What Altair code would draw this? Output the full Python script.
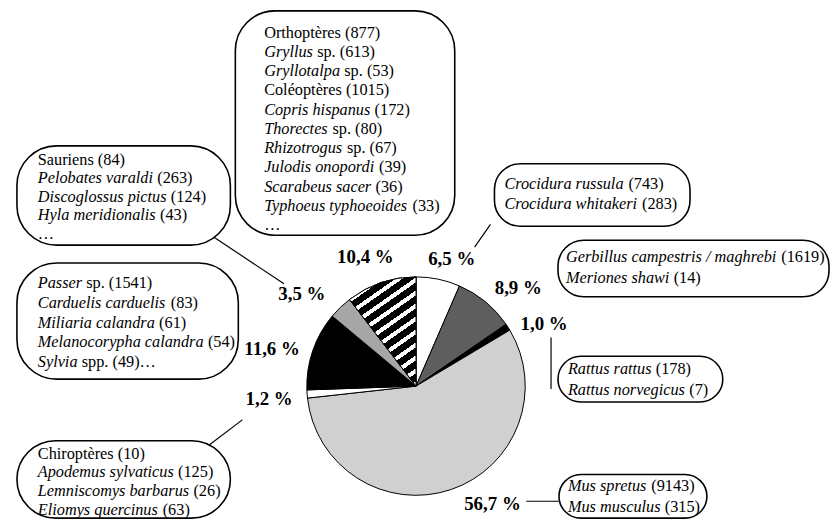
import altair as alt
import pandas as pd

# ---------------- data ----------------
slice_names = ["Crocidura", "Gerbillinae", "Rattus", "Mus", "Divers",
               "Oiseaux", "Reptiles-Amphibiens", "Insectes"]
slice_values = [6.5, 8.9, 1.0, 56.7, 1.2, 11.6, 3.5, 10.4]
slice_labels = ["6,5 %", "8,9 %", "1,0 %", "56,7 %", "1,2 %", "11,6 %", "3,5 %", "10,4 %"]

# each line: (italic part, roman part)
box_insectes = [("", "Orthoptères (877)"), ("Gryllus", "sp. (613)"),
                ("Gryllotalpa", "sp. (53)"), ("", "Coléoptères (1015)"),
                ("Copris hispanus", "(172)"), ("Thorectes", "sp. (80)"),
                ("Rhizotrogus", "sp. (67)"), ("Julodis onopordi", "(39)"),
                ("Scarabeus sacer", "(36)"), ("Typhoeus typhoeoides", "(33)"),
                ("", "…")]
box_sauriens = [("", "Sauriens (84)"), ("Pelobates varaldi", "(263)"),
                ("Discoglossus pictus", "(124)"), ("Hyla meridionalis", "(43)"),
                ("", "…")]
box_oiseaux = [("Passer", "sp. (1541)"), ("Carduelis carduelis", "(83)"),
               ("Miliaria calandra", "(61)"), ("Melanocorypha calandra", "(54)"),
               ("Sylvia", "spp. (49)…")]
box_divers = [("", "Chiroptères (10)"), ("Apodemus sylvaticus", "(125)"),
              ("Lemniscomys barbarus", "(26)"), ("Eliomys quercinus", "(63)")]
box_crocidura = [("Crocidura russula", "(743)"), ("Crocidura whitakeri", "(283)")]
box_gerbilles = [("Gerbillus campestris / maghrebi", "(1619)"), ("Meriones shawi", "(14)")]
box_rattus = [("Rattus rattus", "(178)"), ("Rattus norvegicus", "(7)")]
box_mus = [("Mus spretus", "(9143)"), ("Mus musculus", "(315)")]

# ---------------- styles / layout ----------------
slice_fills = ["#ffffff", "#5e5e5e", "#000000", "#d0d0d0", "#ffffff",
               "#000000", "#a6a6a6", "#ffffff"]
HATCH_INDEX = 7

W, H = 828, 513          # chart px; page offset 8 px
OFF = 8
PIE_CX, PIE_CY, PIE_R = 419, 387, 110

label_pos = {"6,5 %": (455, 259), "8,9 %": (522, 288), "1,0 %": (548, 324),
             "56,7 %": (496, 506), "1,2 %": (271, 400), "11,6 %": (274, 350),
             "3,5 %": (304, 294), "10,4 %": (368, 257)}

# x1, y1, x2, y2, text x, first line y, line step, big corners?
boxes = [
    (box_insectes, (237, 9, 458, 235, 266, 31, 19.4, True)),
    (box_sauriens, (17, 145, 232, 245, 38, 159, 18.6, True)),
    (box_oiseaux, (17, 263, 240, 380, 38, 283, 20, True)),
    (box_divers, (17, 442, 232, 520, 38, 455, 19, True)),
    (box_crocidura, (498, 163, 695, 226, 508, 183, 21, False)),
    (box_gerbilles, (562, 240, 835, 297, 570, 257, 21, False)),
    (box_rattus, (562, 357, 728, 403, 572, 370, 21, False)),
    (box_mus, (563, 476, 712, 520, 572, 488, 20.5, False)),
]

connectors = [((214, 236), (286, 284)),
              ((207, 449), (244, 421)),
              ((494, 224), (478, 247)),
              ((555, 338), (555, 390)),
              ((530, 503), (563, 503))]

FONT = "Liberation Serif"
TXT = 16.4
# Times italic advance widths (1/1000 em)
IT = dict(zip("ABCDEFGHIJKLMNOPQRSTUVWXYZ",
              [611, 611, 667, 722, 611, 611, 722, 722, 333, 444, 667, 556, 833,
               667, 722, 611, 722, 611, 500, 556, 722, 611, 833, 611, 556, 556]))
IT.update(dict(zip("abcdefghijklmnopqrstuvwxyz",
                   [500, 500, 444, 500, 444, 278, 500, 500, 278, 278, 444, 278, 722,
                    500, 500, 500, 500, 389, 389, 278, 500, 444, 667, 444, 444, 389])))
IT.update({" ": 250, "/": 278})


def it_width(s):
    return sum(IT.get(c, 500) for c in s) * TXT / 1000.0


# ---------------- tables ----------------
pie_df = pd.DataFrame({"idx": list(range(len(slice_values))), "name": slice_names,
                       "value": slice_values, "fill": slice_fills})

lab_df = pd.DataFrame({"t": slice_labels,
                       "x": [label_pos[l][0] for l in slice_labels],
                       "y": [label_pos[l][1] for l in slice_labels]})

box_rows, text_rows = [], []
for lines, (x1, y1, x2, y2, tx, ty, dy, big) in boxes:
    box_rows.append(dict(x1=x1, y1=y1, x2=x2, y2=y2, big=big))
    for i, (it, ro) in enumerate(lines):
        y = ty + i * dy
        x = tx
        if it:
            text_rows.append(dict(x=x, y=y, t=it, s="italic"))
            x += it_width(it) + 4.2
        if ro:
            text_rows.append(dict(x=x, y=y, t=ro, s="normal"))
box_df = pd.DataFrame(box_rows)
text_df = pd.DataFrame(text_rows)
con_df = pd.DataFrame([dict(x1=a[0], y1=a[1], x2=b[0], y2=b[1]) for a, b in connectors])

xs = alt.Scale(domain=[OFF, OFF + W], range=[0, W])
ys = alt.Scale(domain=[OFF, OFF + H], range=[0, H])
ts = alt.Scale(domain=[0, sum(slice_values)])


def X(f):
    return alt.X(f, type="quantitative", scale=xs, axis=None)


def Y(f):
    return alt.Y(f, type="quantitative", scale=ys, axis=None)


# ---------------- pie ----------------
pie_base = alt.Chart(pie_df).transform_stack(
    stack="value", groupby=[], as_=["v0", "v1"],
    sort=[alt.SortField("idx", order="ascending")])

pie = pie_base.mark_arc(radius=PIE_R, stroke="black", strokeWidth=1).encode(
    theta=alt.Theta("v0:Q", scale=ts),
    theta2="v1:Q",
    fill=alt.Fill("fill:N", scale=None),
    x=alt.X(datum=PIE_CX, type="quantitative", scale=xs, axis=None),
    y=alt.Y(datum=PIE_CY, type="quantitative", scale=ys, axis=None),
)

n_str = 12
stops = []
for i in range(n_str):
    a, b, c = i / n_str, (i + 0.62) / n_str, (i + 1) / n_str
    stops += [{"offset": a, "color": "#000000"}, {"offset": b, "color": "#000000"},
              {"offset": b, "color": "#ffffff"}, {"offset": c, "color": "#ffffff"}]
hatch_fill = {"gradient": "linear", "x1": 0, "y1": 0, "x2": 0.515, "y2": 1.207,
              "stops": stops}

hatch = pie_base.transform_filter(f"datum.idx == {HATCH_INDEX}").mark_arc(
    radius=PIE_R, stroke="black", strokeWidth=1, fill=hatch_fill).encode(
    theta=alt.Theta("v0:Q", scale=ts),
    theta2="v1:Q",
    x=alt.X(datum=PIE_CX, type="quantitative", scale=xs, axis=None),
    y=alt.Y(datum=PIE_CY, type="quantitative", scale=ys, axis=None),
)

labels = alt.Chart(lab_df).mark_text(font=FONT, fontSize=19, fontWeight="bold",
                                     color="black", baseline="middle", align="center").encode(
    x=X("x"), y=Y("y"), text="t:N")

# ---------------- boxes ----------------
def box_layer(big, rad):
    return alt.Chart(box_df).transform_filter(
        f"datum.big == {'true' if big else 'false'}").mark_rect(
        cornerRadius=rad, fill="white", stroke="black", strokeWidth=1.6).encode(
        x=X("x1"), x2="x2", y=Y("y1"), y2="y2")


rules = alt.Chart(con_df).mark_rule(color="black", strokeWidth=1.2).encode(
    x=X("x1"), y=Y("y1"), x2="x2", y2="y2")


def text_layer(style):
    return alt.Chart(text_df).transform_filter(f"datum.s == '{style}'").mark_text(
        font=FONT, fontSize=TXT, fontStyle=style, color="black",
        align="left", baseline="middle").encode(x=X("x"), y=Y("y"), text="t:N")


chart = alt.layer(
    rules, box_layer(True, 40), box_layer(False, 26), pie, hatch, labels,
    text_layer("italic"), text_layer("normal")
).properties(width=W, height=H, padding=0, autosize="none",
             background="white").configure_view(stroke=None)

chart.save("out.html", embed_options={"renderer": "svg", "actions": False})
